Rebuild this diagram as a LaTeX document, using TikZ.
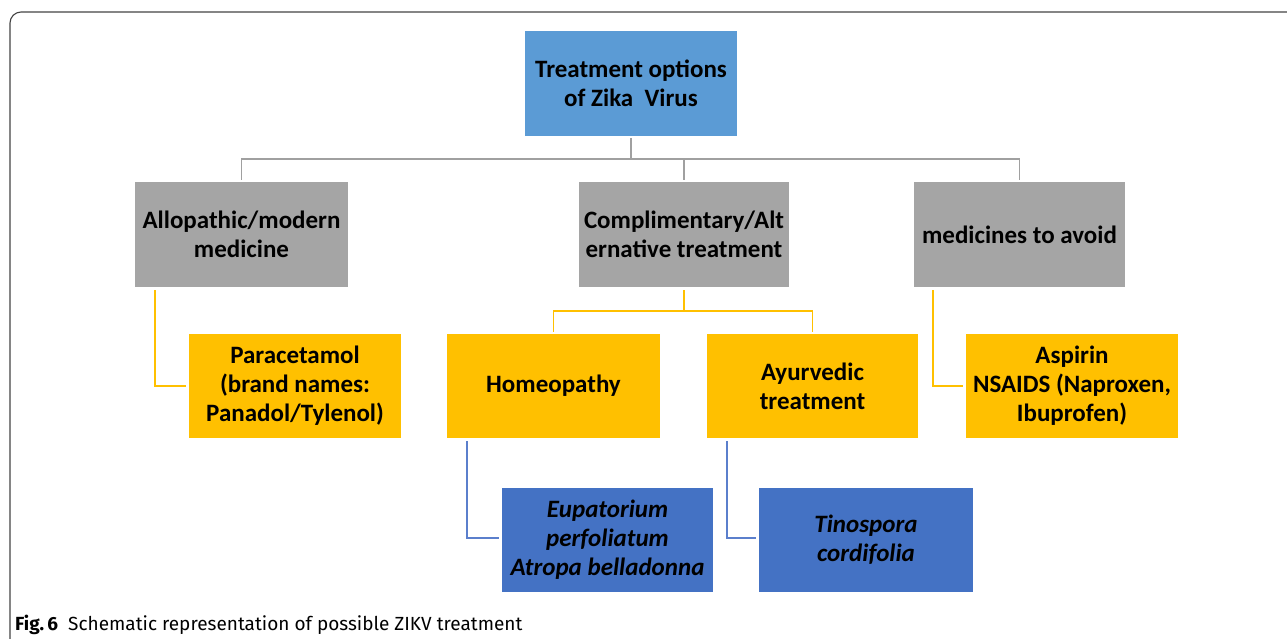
\documentclass[tikz,border=0pt]{standalone}
\usepackage{fontspec}
\setmainfont{Carlito}
\newfontfamily\capfont{Fira Sans}
\definecolor{rootblue}{HTML}{5B9BD5}
\definecolor{boxgray}{HTML}{A5A5A5}
\definecolor{boxyellow}{HTML}{FFC000}
\definecolor{boxblue}{HTML}{4472C4}
\definecolor{linegray}{HTML}{A0A0A0}
\definecolor{lineyellow}{HTML}{FFC000}
\definecolor{lineblue}{HTML}{5B7FCC}
\definecolor{framegray}{HTML}{444444}
\begin{document}
\begin{tikzpicture}[x=1pt,y=-1pt,
  box/.style={rectangle, inner sep=0pt, align=center,
    font=\fontsize{25}{29}\selectfont\bfseries, text=black},
  rootbox/.style={box, fill=rootblue, minimum width=212pt, minimum height=105pt},
  graybox/.style={box, fill=boxgray, minimum height=105pt},
  yellowbox/.style={box, fill=boxyellow, minimum width=212pt, minimum height=104pt},
  bluebox/.style={box, fill=boxblue, minimum height=104pt, font=\fontsize{25}{29}\selectfont\bfseries\itshape},
  gconn/.style={draw=linegray, line width=1.8pt},
  yconn/.style={draw=lineyellow, line width=1.8pt},
  bconn/.style={draw=lineblue, line width=1.8pt},
  framestyle/.style={draw=framegray, line width=1.1pt}
]
\useasboundingbox (0,0) rectangle (1287,638);
\fill[white] (0,0) rectangle (1287,638);
\draw[framestyle, rounded corners=11pt] (10,645) -- (10,12) -- (1295,12);

% nodes
\node[rootbox] (root) at (631,83.5) {Treatment options\\of Zika\ \ Virus};
\node[graybox, minimum width=213pt] (allo) at (241.5,234.5) {Allopathic/modern\\medicine};
\node[graybox, minimum width=210pt] (comp) at (684,234.5) {Complimentary/Alt\\ernative treatment};
\node[graybox, minimum width=211pt] (avoid) at (1019.5,234.5) {medicines to avoid};
\node[yellowbox] (para) at (295,386) {Paracetamol\\(brand names:\\Panadol/Tylenol)};
\node[yellowbox, minimum width=213pt] (homeo) at (553.5,386) {Homeopathy};
\node[yellowbox, minimum width=211pt] (ayur) at (812.5,386) {Ayurvedic\\treatment};
\node[yellowbox] (asp) at (1072,386) {Aspirin\\NSAIDS (Naproxen,\\Ibuprofen)};
\node[bluebox, minimum width=211pt] (eup) at (607.5,540) {Eupatorium\\perfoliatum\\Atropa belladonna};
\node[bluebox, minimum width=214pt] (tino) at (866,540) {Tinospora\\cordifolia};

% connectors (yshift is in canvas units: negative = downward)
\coordinate (bus) at ([yshift=-23pt]root.south);
\draw[gconn] ([yshift=-2pt]root.south) -- (bus);
\draw[gconn] (bus) -| ([yshift=2pt]allo.north);
\draw[gconn] (bus) -| ([yshift=2pt]comp.north);
\draw[gconn] (bus) -| ([yshift=2pt]avoid.north);

\coordinate (cbus) at ([yshift=-24pt]comp.south);
\draw[yconn] ([yshift=-3pt]comp.south) -- (cbus);
\draw[yconn] (cbus) -| ([yshift=2pt]homeo.north);
\draw[yconn] (cbus) -| ([yshift=2pt]ayur.north);

\draw[yconn] ([xshift=20pt,yshift=-3pt]allo.south west) |- ([xshift=-3pt]para.west);
\draw[yconn] ([xshift=19pt,yshift=-3pt]avoid.south west) |- ([xshift=-3pt]asp.west);
\draw[bconn] ([xshift=20pt,yshift=-3pt]homeo.south west) |- ([xshift=-3pt,yshift=2pt]eup.west);
\draw[bconn] ([xshift=20pt,yshift=-3pt]ayur.south west) |- ([xshift=-3pt,yshift=2pt]tino.west);

% caption
\node[anchor=base west, inner sep=0pt, font=\capfont\fontsize{19}{23}\selectfont] (cap) at (15,630)
  {\textbf{Fig.\,6}\ \ Schematic representation of possible ZIKV treatment};
\end{tikzpicture}
\end{document}
